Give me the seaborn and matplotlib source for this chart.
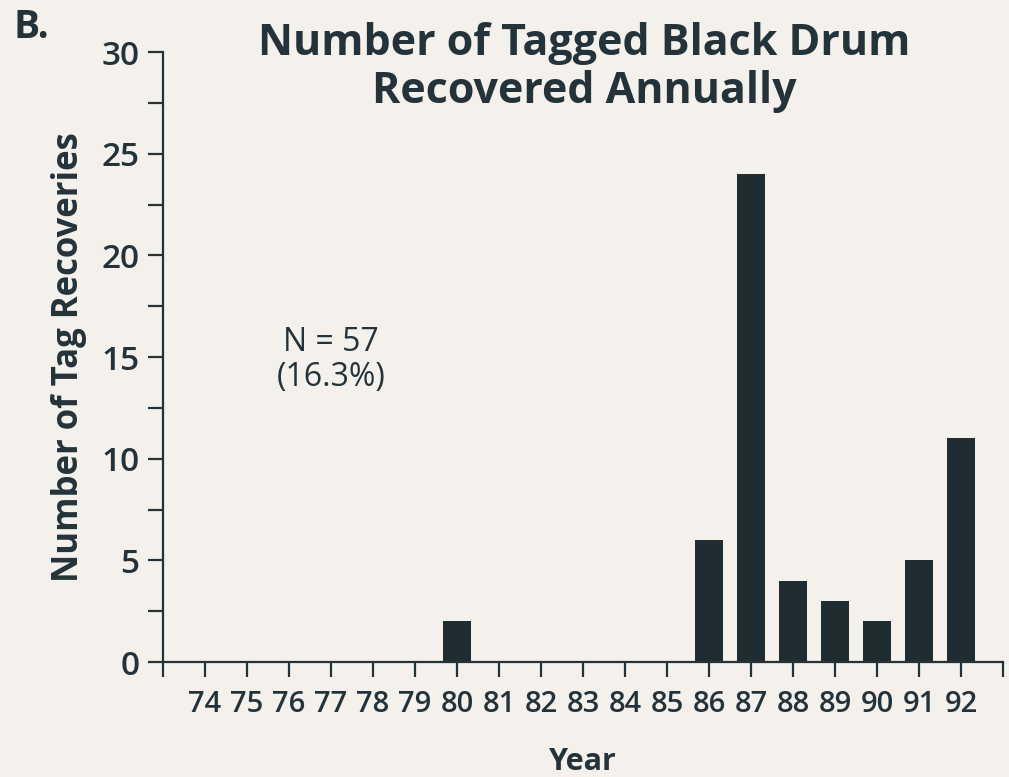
import matplotlib
matplotlib.use("Agg")
import matplotlib.pyplot as plt
import seaborn as sns
import pandas as pd
from matplotlib.ticker import MultipleLocator, FixedLocator

years = ["74", "75", "76", "77", "78", "79", "80", "81", "82", "83",
         "84", "85", "86", "87", "88", "89", "90", "91", "92"]
recoveries = [0, 0, 0, 0, 0, 0, 2, 0, 0, 0, 0, 0, 6, 24, 4, 3, 2, 5, 11]
y_ticks = [0, 5, 10, 15, 20, 25, 30]

title = "Number of Tagged Black Drum\nRecovered Annually"
panel_label = "B."
note = "N = 57\n(16.3%)"
xlabel = "Year"
ylabel = "Number of Tag Recoveries"

bg = "#f4f0eb"
ink = "#24333a"
bar_color = "#1f2c32"

sns.set_style("ticks")
plt.rcParams["font.family"] = ["Open Sans", "DejaVu Sans"]

df = pd.DataFrame({"Year": years, "Recoveries": recoveries})

fig = plt.figure(figsize=(10.09, 7.77), dpi=100, facecolor=bg)
ax = fig.add_axes([0.1615, 0.148, 0.8325, 0.785])
ax.set_facecolor(bg)

sns.barplot(data=df, x="Year", y="Recoveries", order=years, color=bar_color,
            saturation=1, width=0.68, ax=ax, edgecolor=bar_color, linewidth=0)

ax.set_xlim(-1, len(years))
ax.set_ylim(0, 30)
ax.set_yticks(y_ticks)
ax.yaxis.set_minor_locator(MultipleLocator(2.5))
ax.xaxis.set_minor_locator(FixedLocator([-1, len(years)]))

for s in ["top", "right"]:
    ax.spines[s].set_visible(False)
for s in ["left", "bottom"]:
    ax.spines[s].set_linewidth(1.6)
    ax.spines[s].set_color(ink)

ax.tick_params(axis="both", which="both", direction="out", length=11,
               width=1.6, color=ink)
ax.tick_params(axis="x", labelsize=21, labelcolor=ink, pad=9)
ax.tick_params(axis="y", labelsize=24, labelcolor=ink, pad=6)
for lbl in ax.get_xticklabels():
    lbl.set_fontweight("semibold")
for lbl in ax.get_yticklabels():
    lbl.set_fontweight("semibold")

ax.set_xlabel(xlabel, fontsize=22, fontweight="bold", color=ink, labelpad=20)
ax.set_ylabel(ylabel, fontsize=25, fontweight="bold", color=ink, labelpad=10)

fig.text(0.579, 0.972, title, ha="center", va="top", fontsize=31,
         fontweight="bold", color=ink, linespacing=1.15)
fig.text(0.013, 0.99, panel_label, ha="left", va="top", fontsize=28,
         fontweight="bold", color=ink)
ax.text(3, 14.85, note, ha="center", va="center", fontsize=23, color=ink,
        linespacing=1.05)

fig.savefig("out.png", dpi=100, facecolor=bg)
